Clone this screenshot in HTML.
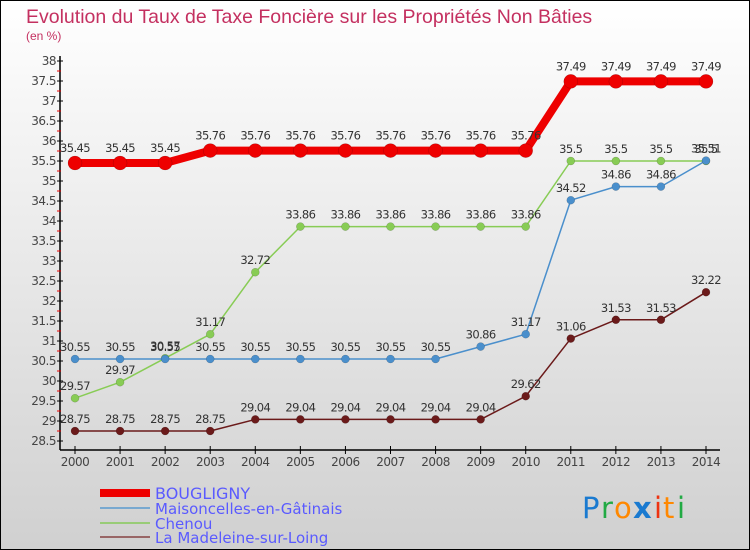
<!DOCTYPE html>
<html><head><meta charset="utf-8"><style>
body{margin:0;}
svg{display:block;font-family:"DejaVu Sans","Liberation Sans",sans-serif;}
</style></head><body>
<svg width="750" height="550" viewBox="0 0 750 550">
<defs><linearGradient id="bg" x1="0" y1="0" x2="0" y2="1"><stop offset="0" stop-color="#ffffff"/><stop offset="1" stop-color="#d0d0d0"/></linearGradient></defs>
<rect x="0.5" y="0.5" width="749" height="549" fill="url(#bg)" stroke="#000"/>
<text x="26" y="23" font-size="19.5" fill="#c43060" font-family="'Liberation Sans',sans-serif">Evolution du Taux de Taxe Foncière sur les Propriétés Non Bâties</text>
<text x="26" y="40" font-size="12" fill="#c43060" font-family="'Liberation Sans',sans-serif">(en %)</text>
<g id="axes"></g>
<g id="series"></g>
<g>
<line x1="100" y1="493" x2="150" y2="493" stroke="#ee0000" stroke-width="8"/>
<text x="155" y="499" font-size="16" fill="#5a5aff">BOUGLIGNY</text>
<line x1="100" y1="508" x2="150" y2="508" stroke="#79a9d0" stroke-width="2"/>
<text x="155" y="514" font-size="15" fill="#5a5aff">Maisoncelles-en-Gâtinais</text>
<line x1="100" y1="523" x2="150" y2="523" stroke="#99cc77" stroke-width="2"/>
<text x="155" y="529" font-size="15" fill="#5a5aff">Chenou</text>
<line x1="100" y1="537" x2="150" y2="537" stroke="#996666" stroke-width="2"/>
<text x="155" y="543" font-size="15" fill="#5a5aff">La Madeleine-sur-Loing</text>
</g>
<g font-size="29" font-family="'DejaVu Sans',sans-serif">
<text x="582" y="518" fill="#1a7ad0">P</text><text x="601" y="518" fill="#22aa44">r</text><text x="614" y="518" fill="#ff8800">o</text><text x="633" y="518" fill="#1a7ad0" font-weight="bold">x</text><text x="654" y="518" fill="#ee3311">i</text><text x="663" y="518" fill="#ff8800">t</text><text x="677" y="518" fill="#22aa44">i</text>
</g>
</svg>
<script>
const years=["2000","2001","2002","2003","2004","2005","2006","2007","2008","2009","2010","2011","2012","2013","2014"];
const yTicks=[28.5,29,29.5,30,30.5,31,31.5,32,32.5,33,33.5,34,34.5,35,35.5,36,36.5,37,37.5,38];
const bougligny=[35.45,35.45,35.45,35.76,35.76,35.76,35.76,35.76,35.76,35.76,35.76,37.49,37.49,37.49,37.49];
const maisoncelles=[30.55,30.55,30.55,30.55,30.55,30.55,30.55,30.55,30.55,30.86,31.17,34.52,34.86,34.86,35.51];
const chenou=[29.57,29.97,30.57,31.17,32.72,33.86,33.86,33.86,33.86,33.86,33.86,35.5,35.5,35.5,35.5];
const madeleine=[28.75,28.75,28.75,28.75,29.04,29.04,29.04,29.04,29.04,29.04,29.62,31.06,31.53,31.53,32.22];
const NS="http://www.w3.org/2000/svg";
const x=i=>75+i*(706-75)/14;
const y=v=>441-(v-28.5)*(441-61)/9.5;
function mk(tag,attrs,parent,txt){const e=document.createElementNS(NS,tag);for(const k in attrs)e.setAttribute(k,attrs[k]);if(txt!==undefined)e.textContent=txt;parent.appendChild(e);return e;}
const ax=document.getElementById('axes');
let e=mk('line',{x1:60,y1:56,x2:60,y2:450,stroke:'#000','stroke-width':1.5},ax);


e=mk('line',{x1:60,y1:450,x2:720,y2:450,stroke:'#000','stroke-width':1.5},ax);


yTicks.forEach((v,i)=>{
  mk('line',{x1:57,y1:y(v),x2:63,y2:y(v),stroke:'#000'},ax);
  if(i<yTicks.length-1)mk('line',{x1:57,y1:y(v+0.25),x2:61,y2:y(v+0.25),stroke:'#ee0000'},ax);
  const t=mk('text',{x:56,y:y(v)+4,'font-size':12,fill:'#444','text-anchor':'end','letter-spacing':'-0.5'},ax,String(v));
  
  
});
years.forEach((yr,i)=>{
  mk('line',{x1:x(i),y1:446,x2:x(i),y2:454,stroke:'#000'},ax);
  const t=mk('text',{x:x(i),y:466,'font-size':12,fill:'#444','text-anchor':'middle','letter-spacing':'-0.5'},ax,yr);
  
  
});
const sg=document.getElementById('series');
function series(data,color,w,r,name){
  const g=mk('g',{},sg);
  
  
  mk('polyline',{points:data.map((v,i)=>x(i)+','+y(v)).join(' '),fill:'none',stroke:color,'stroke-width':w,'stroke-linejoin':'round'},g);
  data.forEach((v,i)=>{
    const c=mk('circle',{cx:x(i),cy:y(v),r:r,fill:color,stroke:'rgba(0,0,0,0.25)','stroke-width':0.5},g);
    
    
    const t=mk('text',{x:x(i),y:y(v)-(r+4),'font-size':11.5,fill:'#333','text-anchor':'middle','letter-spacing':'-0.6'},g,String(v));
    
    
  });
}
series(madeleine,'#6b1a1a',1.5,4,'madeleine');
series(chenou,'#88cc55',1.5,4,'chenou');
series(maisoncelles,'#4a8fcc',1.5,4,'maisoncelles');
series(bougligny,'#ee0000',8,7,'bougligny');
</script>
</body></html>
